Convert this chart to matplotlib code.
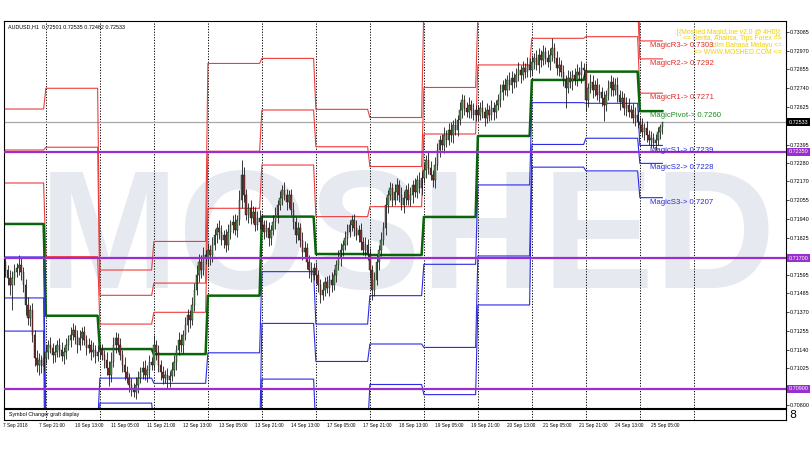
import numpy as np
import matplotlib
matplotlib.use("Agg")
import matplotlib.pyplot as plt

NARROW = ['Liberation Sans Narrow', 'Liberation Sans', 'DejaVu Sans']

symbol = "AUDUSD,H1"
last_ohlc = [0.72501, 0.72535, 0.72462, 0.72533]

# H1 bars shown per trading day: 7 Sep (part) ... 24 Sep, 25 Sep (part)
day_bars = [19, 24, 24, 24, 24, 24, 24, 24, 24, 24, 24, 24, 11]
future_grid = 307  # day line of 26 Sep, drawn in the chart shift area

first_open = 0.71719
# closes in points above 0.70000
close_pts = [
    1676, 1627, 1578, 1535, 1578, 1615, 1639, 1658, 1615, 1535, 1413, 1333, 1382, 1229, 1088, 1045, 1076, 1039, 1088,
    1125, 1168, 1149, 1106, 1125, 1168, 1137, 1100, 1125, 1168, 1198, 1229, 1260, 1217, 1168, 1210, 1247, 1198, 1149, 1168, 1125, 1137, 1100, 1125,
    1137, 1106, 1076, 1027, 984, 1064, 1168, 1210, 1168, 1106, 1045, 1002, 966, 923, 904, 880, 923, 966, 1002, 1027, 984, 1015, 1064, 1045,
    1168, 1125, 1045, 1002, 966, 984, 953, 978, 1015, 1064, 1137, 1198, 1168, 1229, 1290, 1351, 1321, 1413, 1505, 1596, 1676, 1627, 1719, 1701,
    1750, 1719, 1780, 1841, 1884, 1860, 1811, 1841, 1780, 1860, 1903, 1921, 1872, 1933, 2056, 2209, 2086, 1964, 2007, 1946, 1982, 1903, 1946, 1921,
    1903, 1860, 1884, 1823, 1872, 1921, 1964, 2025, 2068, 2117, 2086, 2044, 2086, 1995, 1921, 1841, 1884, 1811, 1737, 1762, 1676, 1627, 1596, 1639,
    1596, 1535, 1474, 1505, 1553, 1517, 1566, 1535, 1596, 1658, 1701, 1750, 1780, 1823, 1860, 1903, 1933, 1884, 1841, 1872, 1798, 1750, 1780, 1719,
    1627, 1505, 1566, 1676, 1750, 1811, 1884, 2025, 2086, 2129, 2056, 2105, 2148, 2086, 2025, 2068, 2117, 2056, 2086, 2148, 2105, 2178, 2129, 2191,
    2240, 2301, 2252, 2209, 2178, 2270, 2362, 2423, 2393, 2454, 2423, 2485, 2454, 2515, 2485, 2546, 2607, 2668, 2619, 2595, 2638, 2607, 2577, 2607,
    2577, 2619, 2595, 2558, 2607, 2577, 2619, 2595, 2638, 2668, 2717, 2760, 2730, 2791, 2760, 2803, 2779, 2822, 2852, 2822, 2864, 2840, 2883, 2852,
    2901, 2926, 2883, 2944, 2913, 2962, 2926, 2901, 2944, 2987, 2926, 2864, 2883, 2840, 2791, 2742, 2803, 2779, 2822, 2791, 2840, 2822, 2864, 2852,
    2668, 2742, 2779, 2730, 2760, 2699, 2717, 2681, 2638, 2699, 2742, 2779, 2730, 2760, 2699, 2656, 2681, 2619, 2638, 2595, 2607, 2558, 2577, 2534,
    2515, 2472, 2497, 2454, 2423, 2436, 2405, 2423, 2472, 2501, 2533,
]
# wick lengths beyond the body, in pips
up_wick = [
    4, 3, 3, 5, 4, 5, 3, 6, 4, 3, 4, 5, 3, 4, 3, 5, 4, 3, 4,
    4, 3, 5, 3, 4, 3, 4, 5, 3, 4, 3, 5, 4, 3, 4, 5, 3, 4, 3, 4, 3, 5, 3, 4,
    3, 4, 3, 5, 4, 6, 5, 4, 3, 4, 3, 5, 4, 3, 4, 3, 5, 4, 3, 4, 5, 3, 4, 3,
    6, 3, 4, 3, 4, 3, 4, 3, 5, 4, 3, 5, 4, 3, 5, 4, 3, 5, 4, 6, 5, 4, 5, 3,
    4, 3, 5, 4, 3, 5, 4, 3, 4, 5, 3, 4, 5, 3, 6, 9, 5, 4, 3, 5, 4, 3, 4, 5,
    4, 3, 5, 4, 3, 4, 5, 3, 4, 3, 5, 4, 3, 4, 5, 3, 4, 3, 5, 4, 3, 4, 5, 3,
    4, 3, 4, 5, 3, 4, 3, 5, 4, 3, 5, 4, 3, 4, 5, 3, 3, 4, 5, 3, 4, 3, 5, 4,
    4, 3, 5, 4, 3, 5, 4, 5, 3, 4, 3, 5, 4, 3, 5, 4, 3, 4, 5, 3, 4, 3, 5, 4,
    4, 3, 5, 4, 3, 5, 4, 3, 4, 5, 3, 4, 5, 3, 4, 3, 5, 4, 3, 4, 5, 3, 4, 3,
    3, 4, 5, 3, 4, 3, 5, 4, 3, 4, 5, 3, 4, 3, 5, 4, 3, 4, 5, 3, 4, 3, 5, 4,
    4, 3, 5, 4, 3, 4, 3, 5, 4, 6, 3, 4, 5, 3, 4, 3, 5, 4, 3, 4, 5, 3, 4, 3,
    4, 3, 5, 4, 3, 4, 5, 3, 4, 3, 5, 4, 3, 4, 5, 3, 4, 3, 5, 4, 3, 4, 5, 3,
    3, 4, 3, 4, 3, 4, 3, 4, 3, 2, 0.2,
]
lo_wick = [
    5, 4, 4, 6, 15, 4, 3, 4, 5, 4, 6, 4, 5, 4, 5, 4, 6, 4, 3,
    3, 4, 3, 5, 4, 3, 4, 3, 5, 4, 3, 4, 3, 4, 5, 3, 4, 3, 4, 3, 5, 3, 4, 3,
    4, 3, 5, 4, 7, 4, 3, 5, 4, 3, 4, 5, 3, 4, 5, 3, 4, 5, 3, 4, 3, 4, 5, 3,
    3, 5, 4, 5, 4, 3, 5, 4, 3, 4, 5, 3, 4, 5, 3, 4, 5, 3, 4, 3, 4, 5, 3, 4,
    5, 6, 4, 3, 5, 4, 3, 5, 4, 3, 4, 5, 3, 4, 3, 5, 4, 3, 5, 4, 3, 4, 3, 4,
    3, 4, 3, 5, 4, 3, 4, 5, 3, 4, 3, 5, 4, 3, 4, 5, 3, 4, 5, 3, 4, 5, 4, 3,
    5, 4, 5, 3, 4, 3, 5, 4, 3, 4, 3, 5, 4, 3, 4, 3, 4, 5, 3, 4, 5, 3, 4, 3,
    5, 6, 4, 3, 5, 4, 3, 4, 5, 3, 4, 3, 5, 4, 3, 5, 4, 3, 4, 5, 3, 4, 3, 4,
    3, 5, 4, 3, 4, 5, 3, 4, 3, 5, 4, 3, 4, 5, 3, 4, 3, 5, 4, 3, 4, 5, 3, 4,
    4, 3, 4, 5, 3, 4, 3, 5, 4, 3, 4, 5, 3, 4, 3, 5, 4, 3, 4, 5, 3, 4, 3, 4,
    3, 4, 3, 5, 4, 3, 4, 3, 5, 4, 3, 4, 5, 3, 4, 12, 3, 4, 5, 3, 4, 3, 5, 4,
    7, 4, 3, 5, 4, 3, 4, 5, 10, 4, 3, 5, 4, 3, 4, 5, 3, 4, 5, 3, 4, 3, 5, 4,
    4, 3, 5, 4, 3, 4, 3, 4, 3, 4, 3.9,
]

# daily MagicLine levels (one value per day in view)
r3 = [0.72613, 0.72740, 0.71627, 0.71802, 0.72892, 0.72923, 0.72611, 0.72561, 0.73258, 0.73618, 0.73440, 0.73464, 0.7303]
r2 = [0.72362, 0.72379, 0.71472, 0.71547, 0.72354, 0.72607, 0.72382, 0.72261, 0.72745, 0.73183, 0.73186, 0.73250, 0.7292]
r1 = [0.72160, 0.71709, 0.71296, 0.71368, 0.72005, 0.72270, 0.71954, 0.72015, 0.72460, 0.72883, 0.73046, 0.73056, 0.7271]
pv = [0.71909, 0.71347, 0.71143, 0.71112, 0.71470, 0.71954, 0.71725, 0.71719, 0.71952, 0.72448, 0.72791, 0.72842, 0.7260]
s1 = [0.71707, 0.70678, 0.70965, 0.70933, 0.71120, 0.71617, 0.71296, 0.71470, 0.71662, 0.72148, 0.72652, 0.72648, 0.7239]
s2 = [0.71456, 0.70316, 0.70812, 0.70678, 0.70586, 0.71300, 0.71067, 0.71174, 0.71153, 0.71713, 0.72396, 0.72434, 0.7228]
s3 = [0.71253, 0.69648, 0.70635, 0.70500, 0.70236, 0.70959, 0.70641, 0.70926, 0.70864, 0.71413, 0.72257, 0.72234, 0.7207]

level_names = ["MagicR3", "MagicR2", "MagicR1", "MagicPivot", "MagicS1", "MagicS2", "MagicS3"]

purple_levels = [0.72350, 0.71700, 0.70900]
yticks = [0.73085, 0.72970, 0.72855, 0.72740, 0.72625, 0.72395, 0.72280, 0.72170, 0.72055,
          0.71940, 0.71825, 0.71595, 0.71485, 0.71370, 0.71255, 0.71140, 0.71025, 0.70800]

time_labels = ["7 Sep 2018", "7 Sep 21:00", "10 Sep 13:00", "11 Sep 05:00", "11 Sep 21:00",
               "12 Sep 13:00", "13 Sep 05:00", "13 Sep 21:00", "14 Sep 13:00", "17 Sep 05:00",
               "17 Sep 21:00", "18 Sep 13:00", "19 Sep 05:00", "19 Sep 21:00", "20 Sep 13:00",
               "21 Sep 05:00", "21 Sep 21:00", "24 Sep 13:00", "25 Sep 05:00"]

header = [":[{Moshed MagicLine v2.0 @ 4H0}]:",
          "<= Berita, Analisa, Tips Forex =>",
          "=> dlm Bahasa Melayu <=",
          "=> WWW.MOSHED.COM <="]

# ---- candles
close = 0.7 + np.array(close_pts) / 1e5
open_ = np.r_[first_open, close[:-1]]
high = np.maximum(open_, close) + np.array(up_wick) / 1e4
low = np.minimum(open_, close) - np.array(lo_wick) / 1e4
n = len(close)
idx = np.arange(n)

W, H = 810, 450
fig = plt.figure(figsize=(8.1, 4.5), dpi=100)
ax = fig.add_axes([4 / W, 1 - 408 / H, 782 / W, 387 / H])
sub = fig.add_axes([4 / W, 1 - 420 / H, 782 / W, 11 / H])

x0 = (4 - 3.125) / 2.25
x1 = (786 - 3.125) / 2.25
for a in (ax, sub):
    a.set_xlim(x0, x1)
    for s in a.spines.values():
        s.set_color('black')
        s.set_linewidth(0.8)
ax.set_ylim(0.70782, 0.73152)
sub.set_ylim(0, 1)
sub.set_yticks([])
sub.set_xticks([])
ax.set_xticks([])

# watermark
ax.text(408 / W, 1 - 288 / H, "MOSHED", transform=fig.transFigure, ha='center', va='baseline',
        fontsize=121, fontweight='bold', family=['Liberation Sans', 'DejaVu Sans'],
        color='#e6e9f0', zorder=0, clip_on=True)

# day separators
day_starts = list(np.cumsum(day_bars)[:-1]) + [future_grid]
for a in (ax, sub):
    a.vlines(day_starts, 0, 1, transform=a.get_xaxis_transform(), colors='black',
             linestyles=(0, (1.2, 1.6)), linewidth=0.7, zorder=1)

# current price line
ax.axhline(last_ohlc[3], color='#a8a8a8', lw=0.9, zorder=1.5)

# MagicLine levels
colors = ['#f03c3c'] * 3 + ['#0a640a'] + ['#2a2ae8'] * 3
widths = [0.8] * 3 + [1.8] + [0.8] * 3
levels = [r3, r2, r1, pv, s1, s2, s3]
for lv, c, lw in zip(levels, colors, widths):
    ax.plot(idx, np.repeat(lv, day_bars), color=c, lw=lw, zorder=2)

# candles
bull = close >= open_
ax.vlines(idx, low, high, color='#1a1a1a', lw=0.6, zorder=3)
body_h = np.maximum(np.abs(close - open_), 0.00003)
ax.bar(idx, body_h, bottom=np.minimum(open_, close), width=0.6,
       color=np.where(bull, '#4f8f4f', '#8a3030'), edgecolor='#1a1a1a', lw=0.3, zorder=4)

# horizontal purple levels
for lv in purple_levels:
    ax.axhline(lv, color='#9a2fd0', lw=1.6, zorder=5)

# level labels at the right end
label_colors = ['#e02828'] * 3 + ['#1f8a1f'] + ['#2828d8'] * 3
for name, lv, c in zip(level_names, levels, label_colors):
    ax.text((650 - 3.125) / 2.25, lv[-1] - 0.00028, f"{name}-> {lv[-1]:.4f}", color=c,
            fontsize=5.6, family=NARROW, va='center', ha='left', zorder=6)

# header texts
ax.text(4 / 782, 1 - 6 / 387, f"{symbol}  " + " ".join(f"{v:.5f}" for v in last_ohlc),
        transform=ax.transAxes, fontsize=3.9, family=NARROW, va='center', ha='left')
for k, line in enumerate(header):
    ax.text(1 - 4 / 782, 1 - (11 + 6.7 * k) / 387, line, transform=ax.transAxes, color='#f0d000',
            fontsize=4.9, family=NARROW, va='center', ha='right', zorder=6)

# price scale
ax.yaxis.tick_right()
ax.set_yticks(yticks)
ax.set_yticklabels([f"{v:.5f}" for v in yticks])
ax.tick_params(axis='y', length=2, width=0.5, pad=1, labelsize=3.9, colors='black')
for lbl in ax.get_yticklabels():
    lbl.set_family(NARROW)

ytr = ax.get_yaxis_transform()
ax.text(1.003, last_ohlc[3], f"{last_ohlc[3]:.5f}", transform=ytr, color='white', fontsize=3.9,
        family=NARROW, va='center', ha='left', zorder=7,
        bbox=dict(boxstyle='square,pad=0.3', fc='black', ec='none'))
for lv in purple_levels:
    ax.text(1.003, lv, f"{lv:.5f}", transform=ytr, color='white', fontsize=3.9, family=NARROW,
            va='center', ha='left', zorder=7,
            bbox=dict(boxstyle='square,pad=0.3', fc='#9a2fd0', ec='none'))

# sub window
sub.text(5 / 782, 0.5, "Symbol Changer graft display", transform=sub.transAxes, fontsize=3.8,
         family=NARROW, va='center', ha='left')
fig.text(789 / W, 1 - 414.5 / H, "8", fontsize=8, va='center', ha='left')

# time scale
xtr = matplotlib.transforms.blended_transform_factory(sub.transData, fig.transFigure)
for k, lab in enumerate(time_labels):
    sub.text(16 * k - 0.2, 1 - 425 / H, lab, transform=xtr, fontsize=3.4, family=NARROW,
             va='center', ha='left', clip_on=False)

fig.savefig("out.png", dpi=100)
